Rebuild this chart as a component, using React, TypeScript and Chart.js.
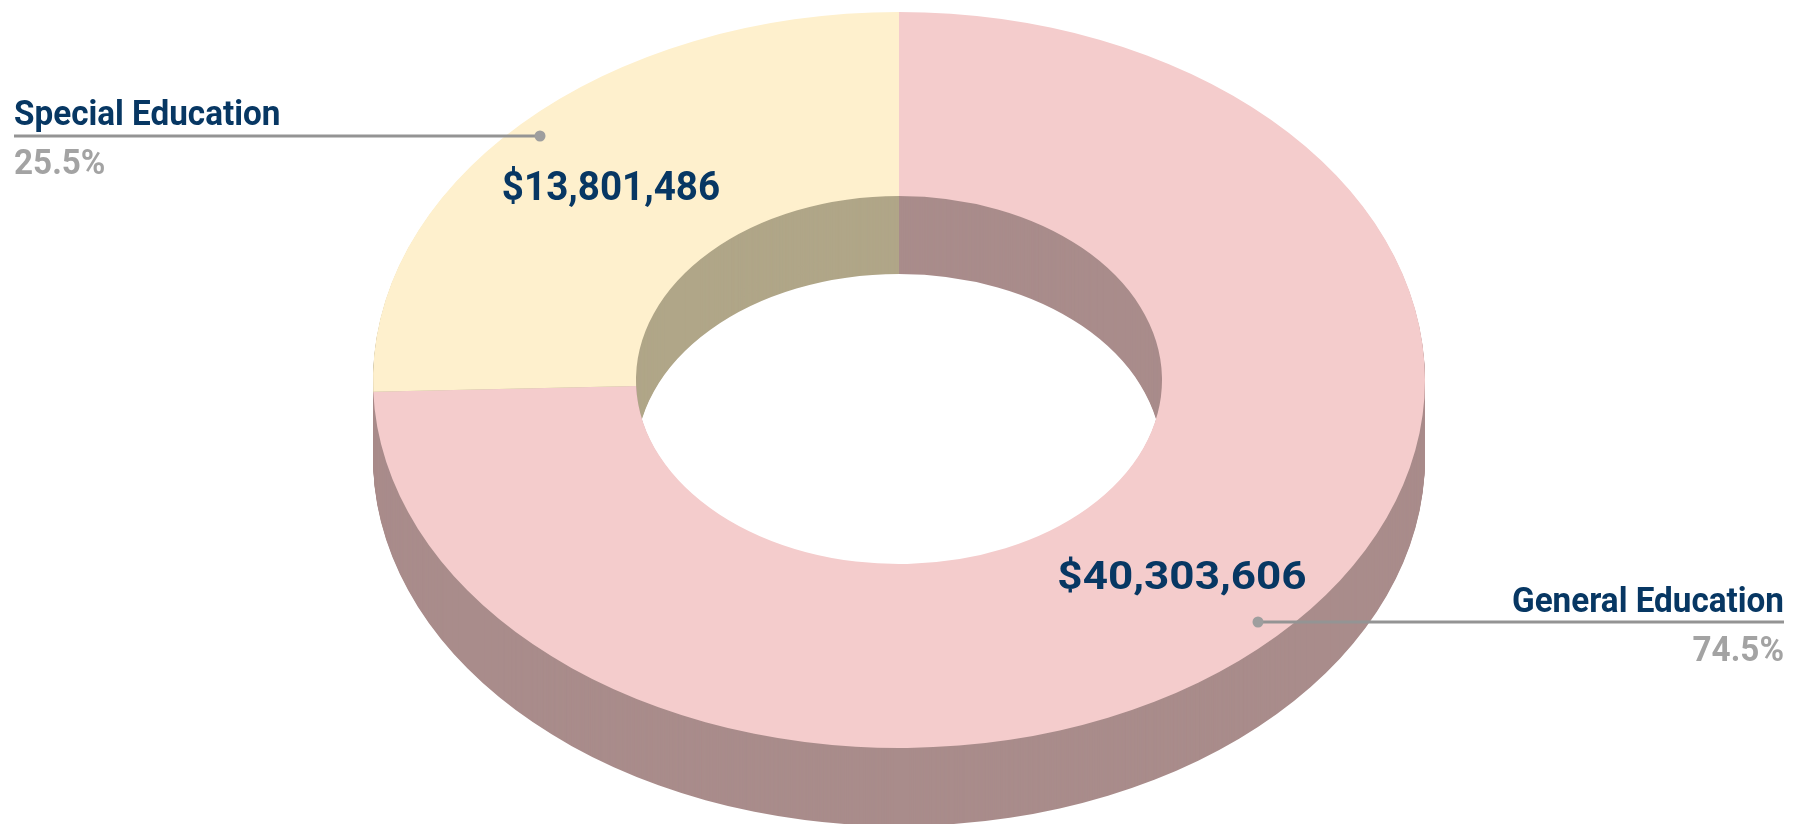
import React, { useEffect, useRef } from "react";
import { Chart, registerables } from "chart.js";

Chart.register(...registerables);

const categories = ["General Education", "Special Education"];
const values = [40303606, 13801486];
const valueLabels = ["$40,303,606", "$13,801,486"];
const percentLabels = ["74.5%", "25.5%"];
const topColors = ["#F4CCCC", "#FEF0CD"];
const wallColors = ["#A98C8B", "#B0A688"];

const NAVY = "#073763";
const SQUASH = 368 / 526;
const DEPTH = 78;

const callouts = [
  { align: "right" as const, textX: 1784, nameY: 603, lineY: 622, pctY: 652, dotX: 1258, valX: 1182, valY: 579, valStretch: 1.145, valFont: 38.5 },
  { align: "left" as const, textX: 14, nameY: 116, lineY: 136, pctY: 165, dotX: 540, valX: 611, valY: 190, valStretch: 0.93, valFont: 41.5 },
];

const tiltPlugin = {
  id: "tilt",
  beforeDatasetsDraw(chart: any) {
    const { ctx } = chart;
    const arcs = chart.getDatasetMeta(0).data;
    const cy = arcs[0].y;
    ctx.save();
    ctx.translate(0, cy);
    ctx.scale(1, SQUASH);
    ctx.translate(0, -cy);
    for (let d = DEPTH; d >= 1; d--) {
      ctx.save();
      ctx.translate(0, d / SQUASH);
      arcs.forEach((arc: any, i: number) => {
        const original = arc.options;
        arc.options = Object.assign(Object.create(original), { backgroundColor: wallColors[i] });
        arc.draw(ctx);
        arc.options = original;
      });
      ctx.restore();
    }
  },
  afterDatasetsDraw(chart: any) {
    const { ctx } = chart;
    ctx.restore();
    ctx.save();
    ctx.textBaseline = "middle";
    callouts.forEach((c, i) => {
      ctx.strokeStyle = "#949494";
      ctx.lineWidth = 3;
      ctx.beginPath();
      ctx.moveTo(c.textX, c.lineY);
      ctx.lineTo(c.dotX, c.lineY);
      ctx.stroke();
      ctx.fillStyle = "#9E9E9E";
      ctx.beginPath();
      ctx.arc(c.dotX, c.lineY, 5.5, 0, Math.PI * 2);
      ctx.fill();

      ctx.textAlign = c.align;
      ctx.save();
      ctx.translate(c.textX, c.nameY);
      ctx.scale(0.95, 1);
      ctx.font = "bold 35px Roboto";
      ctx.fillStyle = NAVY;
      ctx.fillText(categories[i], 0, 0);
      ctx.restore();
      ctx.save();
      ctx.translate(c.textX, c.pctY);
      ctx.scale(0.95, 1);
      ctx.font = "bold 35px Roboto";
      ctx.fillStyle = "#A3A3A3";
      ctx.fillText(percentLabels[i], 0, 0);
      ctx.restore();

      ctx.save();
      ctx.translate(c.valX, c.valY);
      ctx.scale(c.valStretch, 1);
      ctx.textAlign = "center";
      ctx.font = `bold ${c.valFont}px Roboto`;
      ctx.fillStyle = NAVY;
      ctx.fillText(valueLabels[i], 0, 0);
      ctx.restore();
    });
    ctx.restore();
  },
};

export default function App() {
  const ref = useRef<HTMLCanvasElement>(null);
  useEffect(() => {
    document.body.style.margin = "0";
    const chart = new Chart(ref.current!, {
      type: "doughnut",
      data: {
        labels: categories,
        datasets: [{ data: values, backgroundColor: topColors, borderWidth: 0, clip: false } as any],
      },
      options: {
        responsive: false,
        animation: false,
        events: [],
        radius: 526,
        cutout: "50%",
        layout: { padding: { right: 7, bottom: 64 } },
        plugins: { legend: { display: false }, tooltip: { enabled: false } },
      } as any,
      plugins: [tiltPlugin],
    });
    return () => chart.destroy();
  }, []);
  return <canvas ref={ref} width={1805} height={824} style={{ display: "block", width: 1805, height: 824 }} />;
}
